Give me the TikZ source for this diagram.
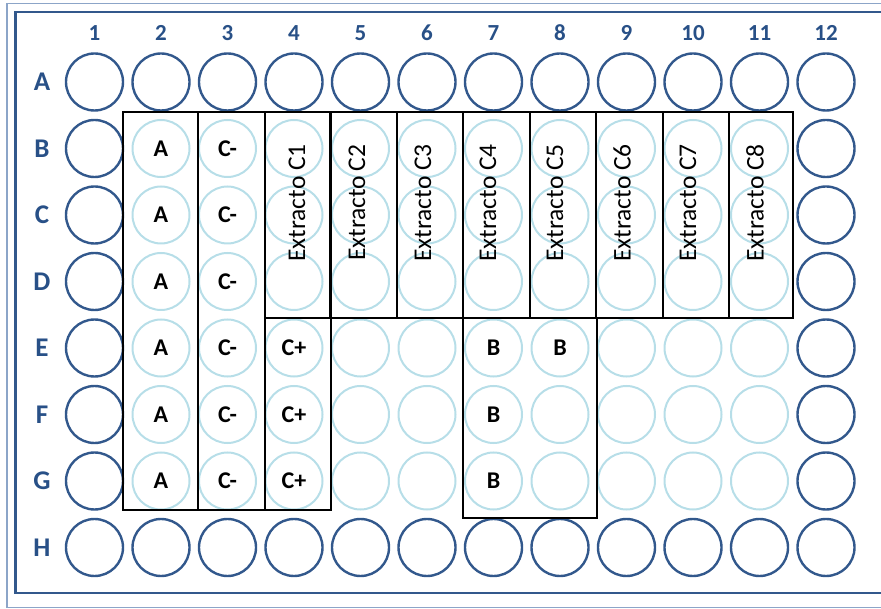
\documentclass[tikz,border=0pt]{standalone}
\usepackage{fontspec}
\setmainfont{Carlito}
\definecolor{EdgeWellClr}{RGB}{50,88,140}
\definecolor{InnerWellClr}{RGB}{183,222,232}
\definecolor{LabelClr}{RGB}{40,80,135}
\definecolor{FrameClr}{RGB}{140,165,200}

\begin{document}
\begin{tikzpicture}[x=1pt,y=-1pt,
  well/.style={circle,minimum size=57pt,inner sep=0pt},
  edgewell/.style={well,draw=EdgeWellClr,line width=2.4pt},
  innerwell/.style={well,draw=InnerWellClr,line width=2pt},
  collbl/.style={text=LabelClr,font=\bfseries\fontsize{23}{26}\selectfont},
  rowlbl/.style={text=LabelClr,font=\bfseries\fontsize{27}{30}\selectfont},
  welllbl/.style={font=\bfseries\fontsize{24}{27}\selectfont},
  extlbl/.style={rotate=90,inner sep=0pt,font=\fontsize{25.5}{28}\selectfont},
  box/.style={draw=black,line width=2pt}]
\useasboundingbox (0,0) rectangle (881,609);
\clip (0,0) rectangle (881,609);

% frame
\draw[FrameClr,line width=1.8pt] (7,3.5) rectangle (895,607.5);
\draw[EdgeWellClr,line width=2.2pt] (15.5,12) rectangle (890,593);

% wells
\foreach \r [count=\i] in {A,B,C,D,E,F,G,H}{
  \node[rowlbl] (row\r) at (42,{82+66.5*(\i-1)}) {\r};
  \foreach \c in {1,...,12}{
    \ifnum\i=1 \def\ws{edgewell}\else\ifnum\i=8 \def\ws{edgewell}\else
      \ifnum\c=1 \def\ws{edgewell}\else\ifnum\c=12 \def\ws{edgewell}\else
        \def\ws{innerwell}\fi\fi\fi\fi
    \node[\ws] (\r\c) at ({94.5+66.5*(\c-1)},{82+66.5*(\i-1)}) {};
  }
}
\foreach \c in {1,...,12}
  \node[collbl] (col\c) at ({94.5+66.5*(\c-1)},33) {\c};

% controls A, C-, C+
\draw[box] (123,112) rectangle (331,510);
\draw[box] (198,112) -- (198,510);
\draw[box] (265,112) -- (265,510);
% extracts
\draw[box] (265,112) rectangle (793,318);
\foreach \x in {330,397,463,530,596,663,729}
  \draw[box] (\x,112) -- (\x,318);
% blank
\draw[box] (463,318) rectangle (597,518);

\foreach \r in {B,C,D,E,F,G}{
  \node[welllbl] (a\r) at (\r2) {A};
  \node[welllbl] (n\r) at (\r3) {C-};
}
\foreach \r in {E,F,G}
  \node[welllbl] (p\r) at (\r4) {C+};
\foreach \w in {E7,F7,G7,E8}
  \node[welllbl] (b\w) at (\w) {B};

\node[extlbl] (ext1) at (297,203) {Extracto C1};
\node[extlbl] (ext2) at (357,203) {Extracto\,C2};
\foreach \n/\x in {3/423,4/488,5/555,6/622,7/688,8/755}
  \node[extlbl] (ext\n) at (\x,203) {Extracto C\n};

\end{tikzpicture}
\end{document}
